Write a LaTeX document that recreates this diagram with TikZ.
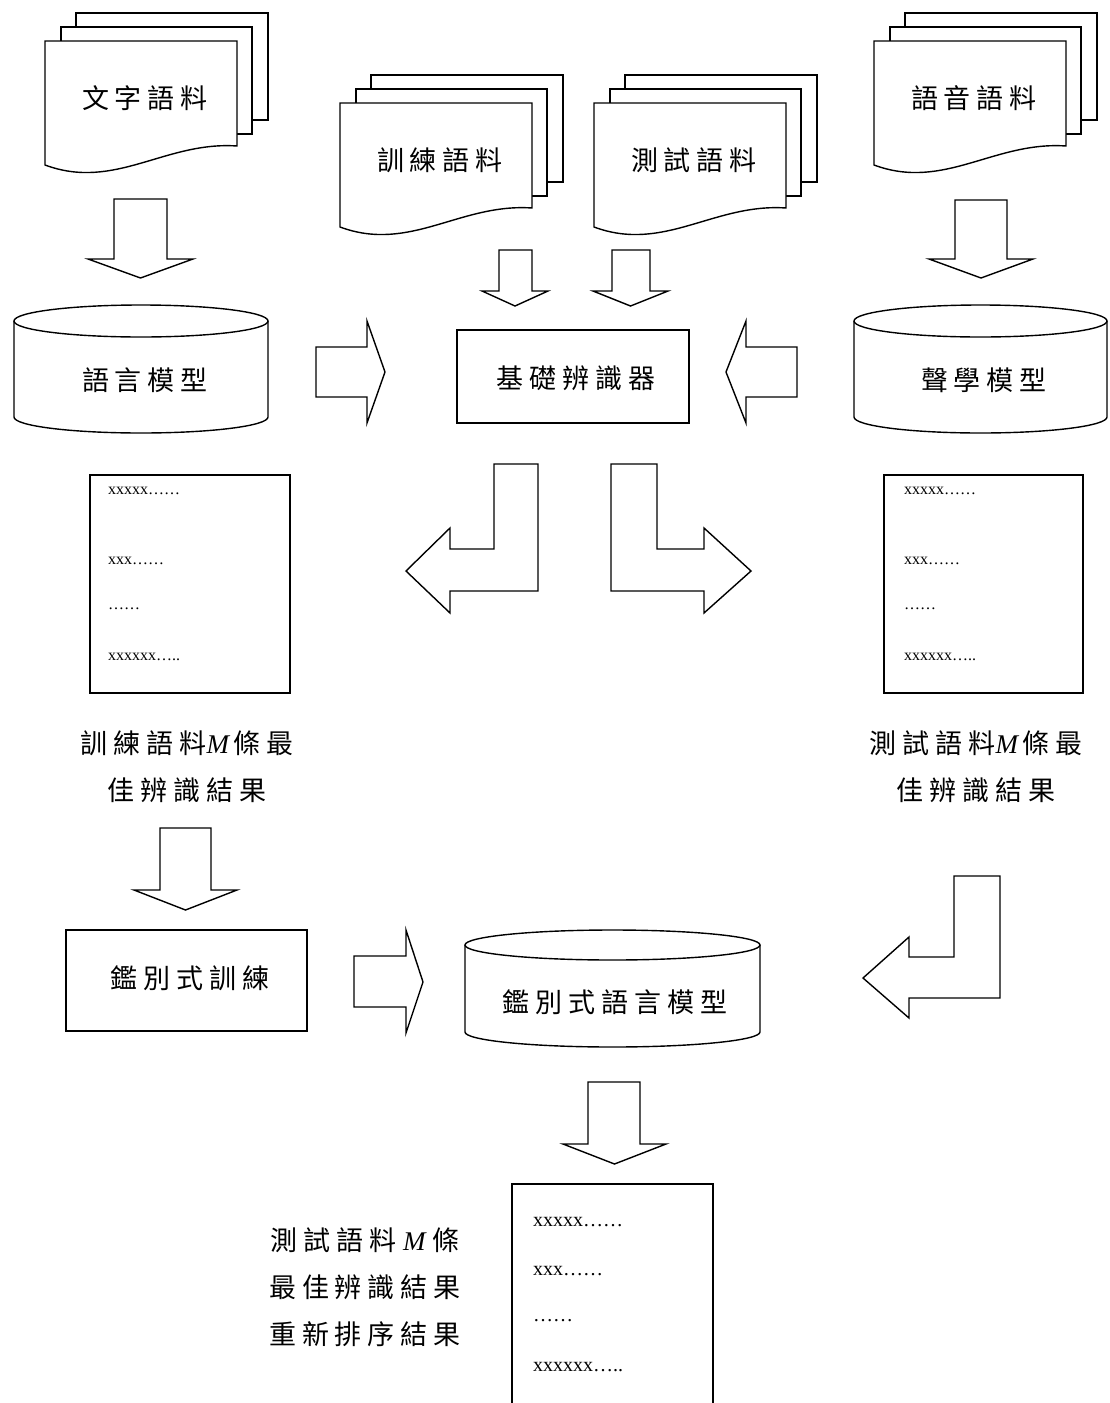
\documentclass[tikz,border=0pt]{standalone}
\usepackage{fontspec}
\newfontfamily\cj[LetterSpace=22]{Noto Sans CJK TC}
\newfontfamily\tmr{Liberation Serif}
\newcommand\mi{\tmr\itshape}
\newcommand\ek{\kern-0.22em}
\tikzset{
  shp/.style={draw, line width=1.4pt, fill=white, line join=miter},
  blockarrow/.style={draw, line width=1.4pt, fill=white, line join=miter},
  cjtext/.style={font=\fontsize{27}{47}\selectfont\cj, inner sep=0pt, align=center},
  xsmall/.style={font=\fontsize{16}{19}\selectfont\tmr, inner sep=0pt, anchor=west},
  xlarge/.style={font=\fontsize{20}{24}\selectfont\tmr, inner sep=0pt, anchor=west},
}
\newcommand\docstack[4]{%
  \draw[shp] (#1+31,#2-28) rectangle (#1+223,#2+79);
  \draw[shp] (#1+16,#2-14) rectangle (#1+207,#2+93);
  \draw[shp] (#1,#2) -- (#1+192,#2) -- (#1+192,#2+105) .. controls (#1+120,#2+100) and (#1+70,#2+150) .. (#1,#2+124) -- cycle;
  \node[cjtext] (#3) at (#1+97,#2+57) {#4\ek};
}
\newcommand\darrow[7]{%
  \draw[blockarrow] (#1,#3) -- (#2,#3) -- (#2,#4) -- (#6,#4) -- ({(#5+#6)/2},#7) -- (#5,#4) -- (#1,#4) -- cycle;
}
\newcommand\cyl[6]{% left right topc botc ry name
  \draw[shp] (#1,#3) -- (#1,#4) arc[start angle=180, end angle=0, x radius={(#2-#1)/2}, y radius=#5] -- (#2,#3);
  \draw[shp] ({(#1+#2)/2},#3) ellipse [x radius={(#2-#1)/2}, y radius=#5];
}
\begin{document}
\begin{tikzpicture}[x=1pt, y=-1pt]
\useasboundingbox (0,0) rectangle (1109,1403);
\fill[white] (0,0) rectangle (1109,1403);

% document stacks
\docstack{45}{41}{wenzi}{文字語料}
\docstack{340}{103}{xunlian}{訓練語料}
\docstack{594}{103}{ceshi}{測試語料}
\docstack{874}{41}{yuyin}{語音語料}

% down arrows top row
\darrow{114}{167}{199}{259}{88}{193}{278}
\darrow{955}{1007}{200}{259}{929}{1033}{278}
\darrow{499}{532}{250}{291}{482}{548}{306}
\darrow{612}{650}{250}{291}{593}{668}{306}

% cylinders
\cyl{14}{268}{321}{417}{16}{lm}
\node[cjtext] (lmt) at (142,380) {語言模型\ek};
\cyl{854}{1107}{321}{417}{16}{am}
\node[cjtext] (amt) at (981,380) {聲學模型\ek};

% recognizer
\node[draw, line width=1.4pt, minimum width=232pt, minimum height=93pt, inner sep=0pt] (rec) at (573,376.5) {};
\node[cjtext] (rect) at (573,378) {基礎辨識器\ek};

% horizontal arrows to recognizer
\draw[blockarrow] (316,347) -- (367,347) -- (367,321) -- (385,372) -- (367,423) -- (367,397) -- (316,397) -- cycle;
\draw[blockarrow] (797,347) -- (746,347) -- (746,321) -- (726,372) -- (746,423) -- (746,397) -- (797,397) -- cycle;

% L-shaped arrows
\draw[blockarrow] (494,464) -- (538,464) -- (538,591) -- (450,591) -- (450,613) -- (406,571) -- (450,528) -- (450,549) -- (494,549) -- cycle;
\draw[blockarrow] (611,464) -- (657,464) -- (657,549) -- (704,549) -- (704,528) -- (751,571) -- (704,613) -- (704,591) -- (611,591) -- cycle;

% n-best boxes
\draw[shp] (90,475) rectangle (290,693);
\node[xsmall] (l1) at (108,491) {xxxxx……};
\node[xsmall] (l2) at (108,561) {xxx……};
\node[xsmall] (l3) at (108,609) {……};
\node[xsmall] (l4) at (108,657) {xxxxxx…..};
\draw[shp] (884,475) rectangle (1083,693);
\node[xsmall] (r1) at (904,491) {xxxxx……};
\node[xsmall] (r2) at (904,561) {xxx……};
\node[xsmall] (r3) at (904,609) {……};
\node[xsmall] (r4) at (904,657) {xxxxxx…..};

% labels
\node[cjtext] (trainlab) at (184,767) {訓練語料{\mi M\kern4pt}條最\ek\\佳辨識結果\ek};
\node[cjtext] (testlab) at (973,767) {測試語料{\mi M\kern4pt}條最\ek\\佳辨識結果\ek};

% discriminative training
\darrow{160}{211}{828}{890}{134}{237}{910}
\node[draw, line width=1.4pt, minimum width=241pt, minimum height=101pt, inner sep=0pt] (dt) at (186.5,980.5) {};
\node[cjtext] (dtt) at (187,978) {鑑別式訓練\ek};
\draw[blockarrow] (354,956) -- (406,956) -- (406,930) -- (423,982) -- (406,1033) -- (406,1007) -- (354,1007) -- cycle;

% discriminative LM
\cyl{465}{760}{945}{1032}{15}{dlm}
\node[cjtext] (dlmt) at (612,1002) {鑑別式語言模型\ek};

% L arrow from right
\draw[blockarrow] (954,876) -- (1000,876) -- (1000,998) -- (909,998) -- (909,1018) -- (863,978) -- (909,937) -- (909,957) -- (954,957) -- cycle;

% down arrow to output
\darrow{588}{640}{1082}{1144}{563}{666}{1164}

% output box
\draw[line width=1.4pt] (512,1404) -- (512,1184) -- (713,1184) -- (713,1404);
\node[xlarge] (b1) at (533,1222) {xxxxx……};
\node[xlarge] (b2) at (533,1271) {xxx……};
\node[xlarge] (b3) at (533,1321) {……};
\node[xlarge] (b4) at (533,1367) {xxxxxx…..};

\node[cjtext] (outlab) at (362,1287) {測試語料{\mi\ M\ }條\ek\\最佳辨識結果\ek\\重新排序結果\ek};
\end{tikzpicture}
\end{document}
